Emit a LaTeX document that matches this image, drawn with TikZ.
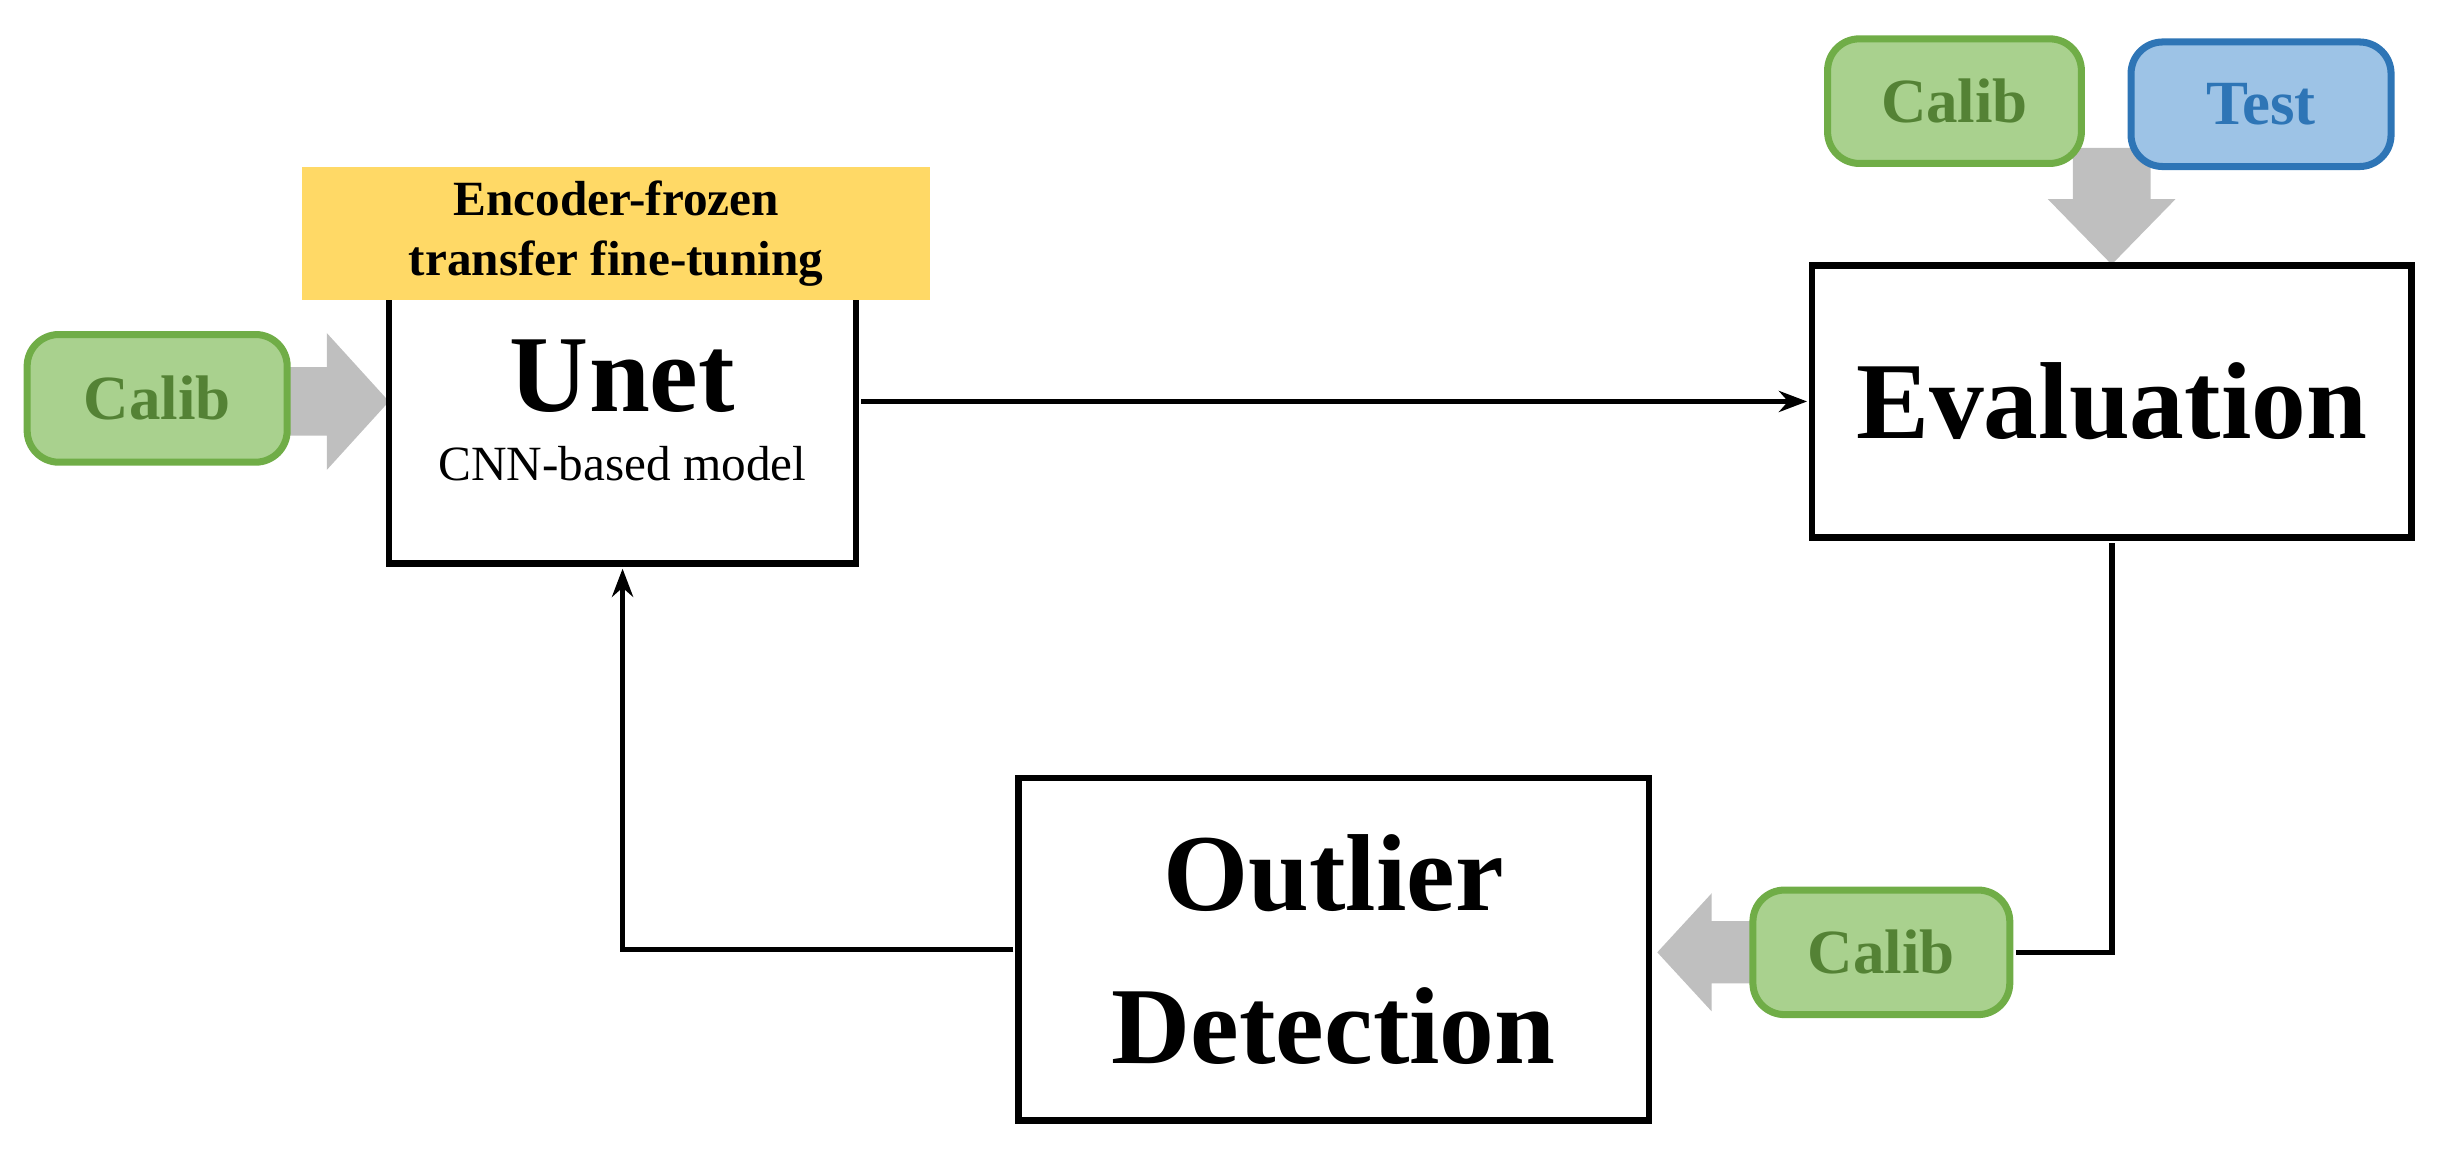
\documentclass[tikz,border=0pt]{standalone}
\usepackage{fontspec}
\setmainfont{Liberation Serif}
\usetikzlibrary{arrows.meta}
\definecolor{gfill}{HTML}{A9D18E}
\definecolor{gdraw}{HTML}{70AD47}
\definecolor{gtext}{HTML}{548235}
\definecolor{bfill}{HTML}{9DC3E6}
\definecolor{bdraw}{HTML}{2E75B6}
\definecolor{yfill}{HTML}{FFD966}
\definecolor{garr}{HTML}{BFBFBF}
\begin{document}
\begin{tikzpicture}[x=0.01cm,y=-0.01cm,scale=1.5561,every node/.style={transform shape},
  box/.style={draw,line width=1.9pt,fill=white,inner sep=0pt},
  tag/.style={draw=gdraw,fill=gfill,text=gtext,line width=2pt,rounded corners=9pt,font=\bfseries\fontsize{11.5}{13}\selectfont,inner sep=0pt},
  ga/.style={fill=garr,draw=none},
  conn/.style={line width=1.5pt,-{Stealth[length=8pt,width=6pt]}},
  big/.style={font=\bfseries\fontsize{20}{28}\selectfont,align=center}]
\useasboundingbox (0,0) rectangle (1568,750);
% gray block arrows
\fill[ga] (180,236) -- (210,236) -- (210,214) -- (250,258) -- (210,302) -- (210,280) -- (180,280) -- cycle;
\fill[ga] (1332,95) -- (1382,95) -- (1382,128) -- (1398,128) -- (1357,170) -- (1316,128) -- (1332,128) -- cycle;
\fill[ga] (1130,592) -- (1100,592) -- (1100,574) -- (1065,612) -- (1100,650) -- (1100,632) -- (1130,632) -- cycle;
% nodes
\node[tag,minimum width=1.67cm,minimum height=0.82cm] (c1) at (101,256) {Calib};
\node[box,minimum width=3cm,minimum height=1.72cm] (unet) at (400,276) {};
\node[fill=yfill,minimum width=4.03cm,minimum height=0.85cm,inner sep=0pt,align=center,font=\bfseries\fontsize{9}{11}\selectfont] (enc) at (396,150) {Encoder-frozen\\transfer fine-tuning};
\node[font=\bfseries\fontsize{20}{22}\selectfont] (ut) at (400,242) {Unet};
\node[font=\fontsize{9}{11}\selectfont] (ucnn) at (400,298) {CNN-based model};
\node[box,minimum width=3.85cm,minimum height=1.75cm,big] (ev) at (1357,258) {Evaluation};
\node[tag,minimum width=1.63cm,minimum height=0.8cm] (c2) at (1256,65) {Calib};
\node[tag,draw=bdraw,fill=bfill,text=bdraw,minimum width=1.67cm,minimum height=0.8cm] (test) at (1453,67) {Test};
\node[box,minimum width=4.05cm,minimum height=2.2cm,big] (od) at (857,610) {Outlier\\Detection};
\node[tag,minimum width=1.65cm,minimum height=0.8cm] (c3) at (1209,612) {Calib};
% connectors
\draw[conn] (unet.east |- 0,258) -- (ev.west |- 0,258);
\draw[line width=1.5pt] (ev.south) |- (c3.east);
\draw[conn] (od.west) -| (unet.south);
\end{tikzpicture}
\end{document}
